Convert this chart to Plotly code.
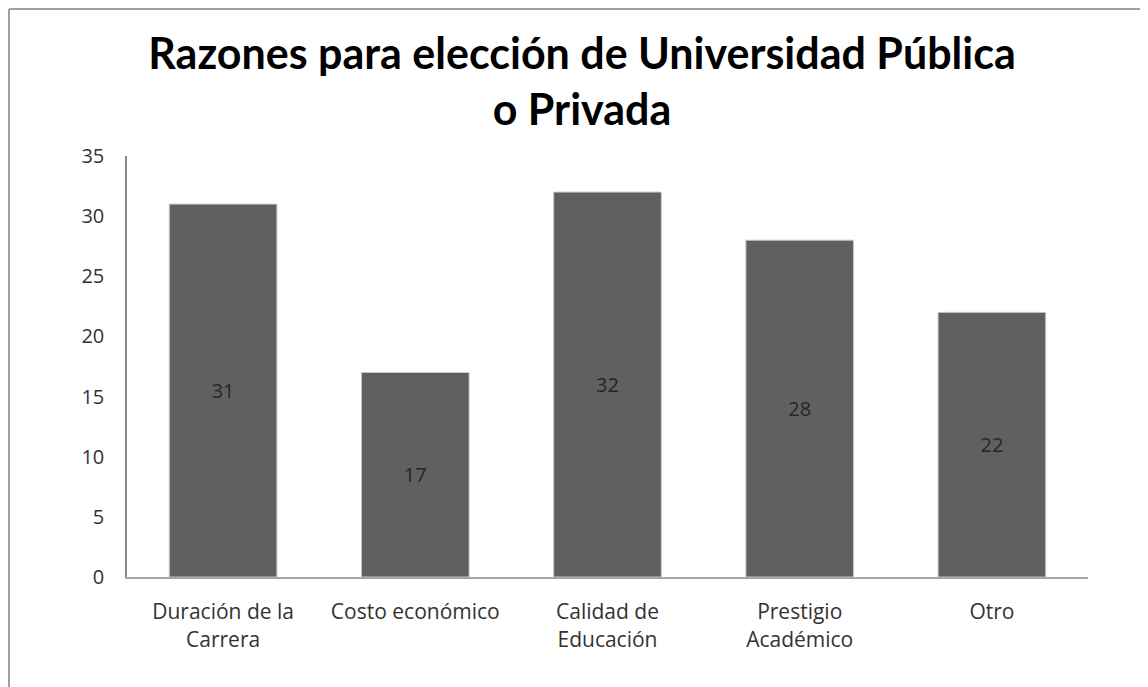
import plotly.graph_objects as go

categorias = ['Duración de la<br>Carrera', 'Costo económico', 'Calidad de<br>Educación',
              'Prestigio<br>Académico', 'Otro']
valores = [31, 17, 32, 28, 22]
y_ticks = [0, 5, 10, 15, 20, 25, 30, 35]

W, H = 1148, 687
# the page body adds an 8px offset, so margins are a little smaller on the left/top
m_left, m_right, m_top, m_bottom = 119, 68, 148, 118
plot_w = W - m_left - m_right
plot_h = H - m_top - m_bottom

fig = go.Figure(go.Bar(
    x=categorias,
    y=valores,
    text=valores,
    textposition='inside',
    insidetextanchor='middle',
    textangle=0,
    textfont=dict(family='Open Sans', size=20, color='#262626'),
    marker=dict(color='#606060', line=dict(color='#c8c8c8', width=1)),
))

fig.update_layout(
    width=W, height=H,
    margin=dict(l=m_left, r=m_right, t=m_top, b=m_bottom),
    plot_bgcolor='white',
    paper_bgcolor='white',
    bargap=0.44,
    showlegend=False,
    title=dict(text='<b>Razones para elección de Universidad Pública<br>o Privada</b>',
               x=0.5, xanchor='center', y=1 - 61 / H, yanchor='middle',
               font=dict(family='Lato', size=43, color='black')),
    font=dict(family='Open Sans', size=20, color='#333333'),
)

fig.update_yaxes(range=[0, 35], tickvals=y_ticks, showgrid=False,
                 showline=True, linecolor='#8c8c8c', linewidth=1.5,
                 ticks='', ticklabelstandoff=17, zeroline=False)
fig.update_xaxes(showline=True, linecolor='#a6a6a6', linewidth=2,
                 ticks='', ticklabelstandoff=15, tickfont=dict(size=21))

# chart border (only the left and top edges show in the picture)
x0 = (1 - m_left) / plot_w
y_top = (H - 1 - m_bottom) / plot_h
y_bot = -m_bottom / plot_h
x1 = (W - m_left) / plot_w
border = dict(color='#a0a0a0', width=2)
fig.add_shape(type='line', xref='paper', yref='paper', x0=x0, x1=x0, y0=y_bot, y1=y_top,
              line=border, layer='below')
fig.add_shape(type='line', xref='paper', yref='paper', x0=x0, x1=x1, y0=y_top, y1=y_top,
              line=border, layer='below')

fig.write_html('out.html')
